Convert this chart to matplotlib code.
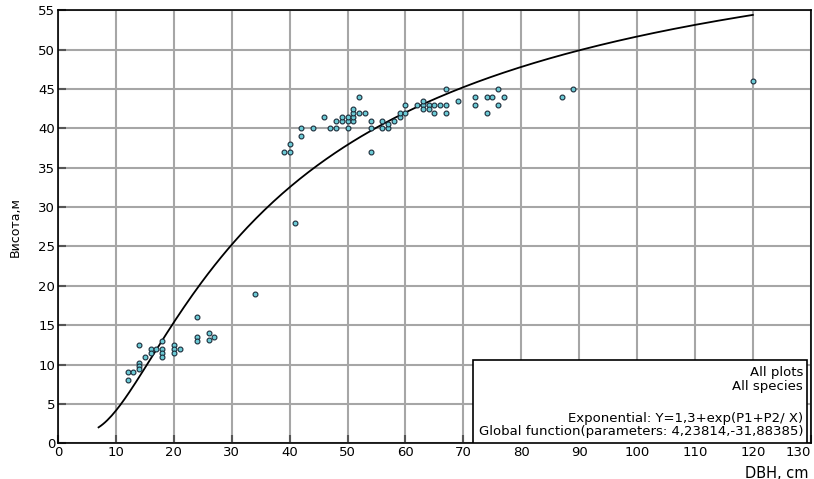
import numpy as np
import matplotlib
matplotlib.use("Agg")
import matplotlib.pyplot as plt
from matplotlib.patches import Rectangle

plt.rcParams['font.family'] = ['DejaVu Sans']

# measured trees: diameter (cm) and height (m)
dbh = [12, 12, 13, 14, 14, 14, 14, 15, 16, 16, 17, 18, 18, 18, 18,
       20, 20, 20, 21, 24, 24, 24, 26, 26, 27, 34,
       39, 40, 40, 41, 42, 42, 44, 46, 47, 48, 48, 49, 49,
       50, 50, 50, 51, 51, 51, 51, 52, 52, 53, 54, 54, 54,
       56, 56, 57, 57, 58, 59, 59, 60, 60, 62, 63, 63, 63,
       64, 64, 65, 65, 66, 67, 67, 67, 69, 72, 72, 74, 74,
       75, 76, 76, 77, 87, 89, 120]
height = [8, 9, 9, 12.5, 10.2, 9.85, 9.5, 11, 12, 11.5, 12, 13, 12, 11.5, 11,
          12.5, 12, 11.5, 12, 16, 13.5, 13, 14, 13.1, 13.5, 19,
          37, 37, 38, 28, 40, 39, 40, 41.5, 40, 40, 41, 41, 41.5,
          40, 41, 41.5, 41, 41.5, 42, 42.5, 42, 44, 42, 40, 41, 37,
          41, 40, 40, 40.5, 41, 41.5, 42, 42, 43, 43, 43, 43.5, 42.5,
          43, 42.5, 43, 42, 43, 43, 42, 45, 43.5, 44, 43, 44, 42,
          44, 45, 43, 44, 44, 45, 46]

# global function Y = 1.3 + exp(P1 + P2 / X)
p1 = 4.23814
p2 = -31.88385
curve_x = np.linspace(7, 120, 300)
curve_y = 1.3 + np.exp(p1 + p2 / curve_x)

legend_lines = ["All plots", "All species",
                "Exponential: Y=1,3+exp(P1+P2/ X)",
                "Global function(parameters: 4,23814,-31,88385)"]

fig = plt.figure(figsize=(8.14, 4.79), dpi=100)
ax = fig.add_axes([0.0713, 0.0745, 0.9247, 0.904])

ax.plot(curve_x, curve_y, color='black', lw=1.3, zorder=3)
ax.plot(dbh, height, 'o', ms=3.5, mfc='#6ccbd6', mec='#1c2c3a', mew=0.8,
        zorder=4, linestyle='none')

ax.set_xlim(0, 130)
ax.set_ylim(0, 55)
ax.set_xticks(np.arange(0, 131, 10))
ax.set_yticks(np.arange(0, 56, 5))
ax.grid(True, color='#a6a6a6', lw=1.5)
ax.set_axisbelow(True)
ax.tick_params(direction='in', length=6, width=1.5, color='#555555',
               labelsize=9.5, pad=2)
last = ax.get_xticklabels()[-1]
last.set_horizontalalignment('right')
for s in ax.spines.values():
    s.set_color('black')
    s.set_linewidth(1.2)

ax.set_ylabel('Висота,м', fontsize=9)
ax.yaxis.set_label_coords(-0.048, 0.5)
fig.text(0.993, 0.0125, 'DBH, cm', fontsize=10.5, ha='right', va='center')

box = Rectangle((0.5518, 0.0), 0.4429, 0.1924, transform=ax.transAxes,
                facecolor='white', edgecolor='black', lw=1.2, zorder=5)
ax.add_patch(box)
ys = [0.163, 0.1307, 0.0577, 0.0268]
for t, yy in zip(legend_lines, ys):
    ax.text(0.9898, yy, t, transform=ax.transAxes, ha='right', va='center',
            fontsize=9.5, zorder=6)

fig.savefig('out.png', dpi=100)
